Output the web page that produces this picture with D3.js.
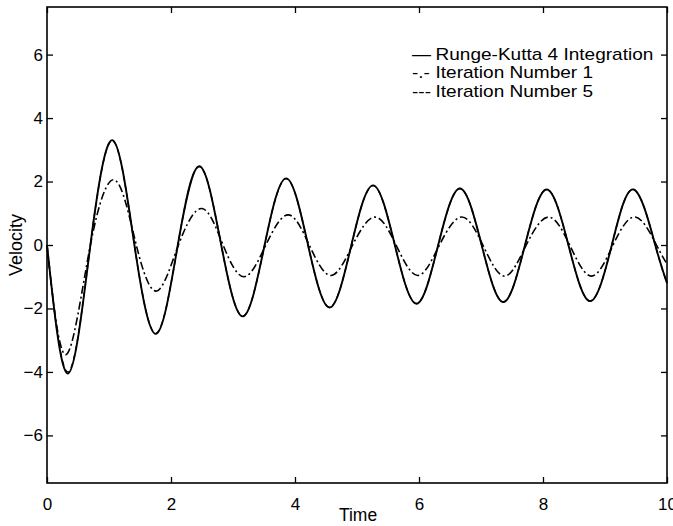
<!DOCTYPE html>
<html>
<head>
<meta charset="utf-8">
<script src="https://cdn.jsdelivr.net/npm/d3@7"></script>
<style>
  body { margin: 0; background: #fff; }
  svg text { font-family: "Liberation Sans", Arial, Helvetica, sans-serif; fill: #000; }
</style>
</head>
<body>
<svg id="chart" width="673" height="526"></svg>
<script>
// values: extrema and zero crossings
const rkTime = [0, 0.34, 0.70, 1.06, 1.41, 1.76, 2.11, 2.46, 2.81, 3.16, 3.51, 3.86, 4.21, 4.56, 4.91, 5.26, 5.61, 5.96, 6.31, 6.66, 7.01, 7.36, 7.71, 8.06, 8.41, 8.76, 9.11, 9.46, 9.81, 10];
const rkVel  = [0, -4.05, 0, 3.3, 0, -2.8, 0, 2.48, 0, -2.25, 0, 2.1, 0, -1.97, 0, 1.88, 0, -1.85, 0, 1.78, 0, -1.8, 0, 1.75, 0, -1.77, 0, 1.75, 0, -1.2];

const it1Time = [0, 0.31, 0.70, 1.10, 1.44, 1.77, 2.12, 2.50, 2.84, 3.18, 3.53, 3.89, 4.23, 4.58, 4.93, 5.29, 5.63, 5.98, 6.33, 6.69, 7.03, 7.38, 7.73, 8.09, 8.43, 8.78, 9.13, 9.49, 9.83, 10];
const it1Vel  = [0, -3.45, 0, 2.04, 0, -1.45, 0, 1.15, 0, -1.0, 0, 0.95, 0, -0.96, 0, 0.88, 0, -0.96, 0, 0.88, 0, -0.98, 0, 0.88, 0, -0.98, 0, 0.88, 0, -0.6];

const it5Time = [0, 0.34, 0.70, 1.06, 1.41, 1.76, 2.11, 2.46, 2.81, 3.16, 3.51, 3.86, 4.21, 4.56, 4.91, 5.26, 5.61, 5.96, 6.31, 6.66, 7.01, 7.36, 7.71, 8.06, 8.41, 8.76, 9.11, 9.46, 9.81, 10];
const it5Vel  = [0, -4.0, 0, 3.28, 0, -2.78, 0, 2.47, 0, -2.24, 0, 2.09, 0, -1.96, 0, 1.87, 0, -1.84, 0, 1.78, 0, -1.79, 0, 1.75, 0, -1.76, 0, 1.75, 0, -1.2];

const xTicks = [0, 2, 4, 6, 8, 10];
const yTicks = [-6, -4, -2, 0, 2, 4, 6];
const legendLabels = ["Runge-Kutta 4 Integration", "Iteration Number 1", "Iteration Number 5"];
const legendMarks = ["\u2014", "-.-", "---"];

const svg = d3.select("#chart");
const mLeft = 47, mRight = 667, mTop = 7, mBottom = 483;

const x = d3.scaleLinear().domain([0, 10]).range([mLeft, mRight]);
const y = d3.scaleLinear().domain([-7.5, 7.5]).range([mBottom, mTop]);

const line = d3.line()
  .x(d => x(d[0]))
  .y(d => y(d[1]))
  .curve(d3.curveNatural);

const series = [
  { t: rkTime, v: rkVel, dash: null, w: 1.9 },
  { t: it1Time, v: it1Vel, dash: "8,3,2,3", w: 1.6 },
  { t: it5Time, v: it5Vel, dash: "5,4", w: 1.4 }
];

const plot = svg.append("g");
plot.selectAll("path.series")
  .data(series)
  .enter().append("path")
  .attr("class", "series")
  .attr("d", s => line(s.t.map((t, i) => [t, s.v[i]])))
  .attr("fill", "none")
  .attr("stroke", "#000")
  .attr("stroke-width", s => s.w)
  .attr("stroke-dasharray", s => s.dash);

// axes box with inward ticks
svg.append("g").attr("transform", `translate(0,${mBottom})`)
  .call(d3.axisBottom(x).tickValues(xTicks).tickSizeInner(-6).tickSizeOuter(0).tickPadding(15))
  .call(g => g.select(".domain").remove());
svg.append("g").attr("transform", `translate(0,${mTop})`)
  .call(d3.axisTop(x).tickValues(xTicks).tickSizeInner(-6).tickSizeOuter(0).tickFormat(""))
  .call(g => g.select(".domain").remove());
svg.append("g").attr("transform", `translate(${mLeft},0)`)
  .call(d3.axisLeft(y).tickValues(yTicks).tickSizeInner(-6).tickSizeOuter(0).tickPadding(4))
  .call(g => g.select(".domain").remove());
svg.append("g").attr("transform", `translate(${mRight},0)`)
  .call(d3.axisRight(y).tickValues(yTicks).tickSizeInner(-6).tickSizeOuter(0).tickFormat(""))
  .call(g => g.select(".domain").remove());

svg.selectAll(".tick line").attr("stroke", "#000").attr("stroke-width", 1.3);
svg.selectAll(".tick text").attr("font-size", 17).attr("fill", "#000")
  .attr("font-family", "Liberation Sans, Arial, sans-serif");

svg.append("rect")
  .attr("x", mLeft).attr("y", mTop)
  .attr("width", mRight - mLeft).attr("height", mBottom - mTop)
  .attr("fill", "none").attr("stroke", "#000").attr("stroke-width", 1.6);

svg.append("text")
  .attr("x", (mLeft + mRight) / 2 + 1).attr("y", 521)
  .attr("text-anchor", "middle").attr("font-size", 17.5)
  .text("Time");

svg.append("text")
  .attr("transform", `translate(22,${(mTop + mBottom) / 2}) rotate(-90)`)
  .attr("text-anchor", "middle").attr("font-size", 18)
  .text("Velocity");

// legend
const leg = svg.append("g").attr("transform", "translate(412,0) scale(1.12,1)");
legendLabels.forEach((lab, i) => {
  const yy = 60 + i * 18.5;
  leg.append("text").attr("x", 0).attr("y", yy).attr("font-size", 17).text(legendMarks[i]);
  leg.append("text").attr("x", 21).attr("y", yy).attr("font-size", 17).text(lab);
});
</script>
</body>
</html>
